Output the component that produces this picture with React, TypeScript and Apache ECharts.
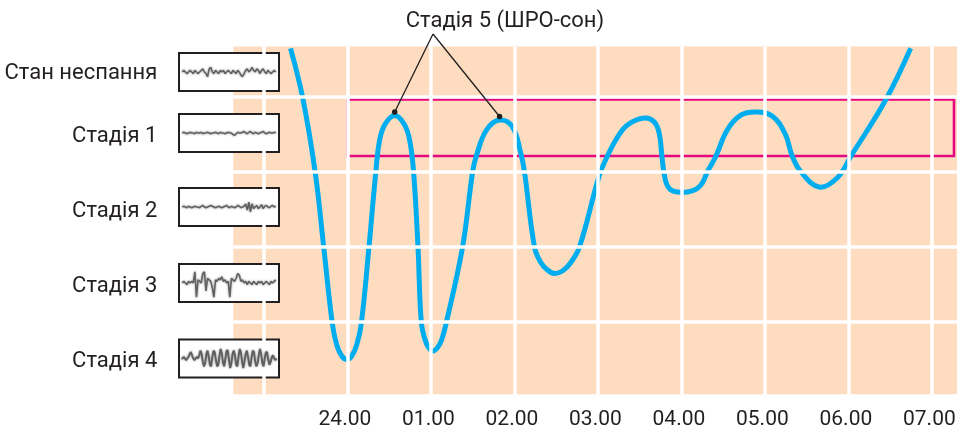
import React, { useEffect, useRef } from 'react';
import * as echarts from 'echarts';

// ---- data ----
const timeTicks = [24, 25, 26, 27, 28, 29, 30, 31];
const timeLabels = ['24.00', '01.00', '02.00', '03.00', '04.00', '05.00', '06.00', '07.00'];
const hourGridLines = [23, 24, 25, 26, 27, 28, 29, 30, 31];
const stageLabels = ['Стан неспання', 'Стадія 1', 'Стадія 2', 'Стадія 3', 'Стадія 4'];
const stageLevels = [0, 1, 2, 3, 4];
const stageBoundaries = [0.5, 1.5, 2.5, 3.5];
const annotationTitle = 'Стадія 5 (ШРО-сон)';

// sleep depth curve: hours (24 = midnight) and depth level (0 = awake, 4 = stage 4)
const curveHours = [
  23.318, 23.465, 23.615, 23.717, 23.818, 23.872, 23.932, 23.992, 24.051, 24.111,
  24.167, 24.258, 24.339, 24.386, 24.452, 24.566, 24.679, 24.745, 24.793, 24.845,
  24.885, 24.931, 24.972, 25.026, 25.08, 25.128, 25.184, 25.379, 25.499, 25.547,
  25.666, 25.822, 25.977, 26.081, 26.121, 26.24, 26.312, 26.396, 26.48, 26.575,
  26.671, 26.779, 27.018, 27.114, 27.221, 27.353, 27.556, 27.676, 27.736, 27.766,
  27.79, 27.819, 27.867, 27.951, 28.071, 28.178, 28.25, 28.31, 28.414, 28.549,
  28.716, 28.896, 29.087, 29.243, 29.327, 29.431, 29.65, 29.865, 30.032, 30.451,
  30.746,
];
const curveLevels = [
  -0.149, 0.513, 1.513, 2.513, 3.513, 3.807, 3.953, 4.0, 3.953, 3.807,
  3.513, 2.5, 1.509, 1.073, 0.86, 0.747, 0.86, 1.073, 1.509, 2.5,
  3.509, 3.74, 3.84, 3.887, 3.84, 3.74, 3.509, 2.5, 1.5, 1.273,
  0.94, 0.807, 0.9, 1.273, 1.5, 2.5, 2.7, 2.807, 2.853, 2.82,
  2.713, 2.5, 1.54, 1.287, 1.06, 0.873, 0.78, 0.833, 0.993, 1.287,
  1.5, 1.647, 1.733, 1.767, 1.767, 1.727, 1.647, 1.5, 1.287, 0.94,
  0.74, 0.7, 0.753, 0.993, 1.287, 1.496, 1.7, 1.58, 1.287, 0.531,
  -0.149,
];

// highlighted REM band
const remBoxHours = [24.0, 31.265];
const remBoxLevels = [0.533, 1.287];

// EEG sample traces (arbitrary amplitude units)
const eegWake = [0, 1, 0, -1, 0, 1, 0, -1, 1, 0, -1, 0, 1, 2, 0, -1, -3, 2, 3, 0, -1, 1, 0, -1, 1, 0, 1, -1, 0, 1, 0, -1, 1, 0, -1, 1, 0, -2, -3, -1, 1, 2, 0, 1, 3, 1, 0, 2, 1, -1, 1, 2, 0, -1, 1, 0, -1, 0, 1, 0];
const eegStage1 = [0, 0.5, 0, -0.5, 0, 0.5, 0, 0, -0.5, 0.5, 0, 0, 0.5, -0.5, 0, 0, 0.5, 0, -0.5, 0, 0, 0.5, 0, -0.5, 0.5, 0, 0, -0.5, 0, 0.5, 0, 0, -1, -1.5, -0.5, 0.5, 0, 0, 0.5, 1, 0, -0.5, 0.5, 1, 0, -0.5, 0.5, 0, -0.5, 0, 0.5, 1, 0, -0.5, 0, 0.5, 0, 0, 0.5, 0];
const eegStage2 = [0, 0.5, 0, -0.5, 0.5, 0, -0.5, 0, 0.5, 0, 0, -0.5, 0.5, 1, 0, -0.5, 0, 0.5, 1, 0.5, 0, -0.5, 0, 0.5, 0, -0.5, 0, 0.5, 1, 0, -0.5, 0.5, 0, -0.5, 0, 1, 0.5, -0.5, 0, 0.5, 2, -2, 3, -3, 2, -1, 0, 1, -1, 0, 1.5, -1, 0.5, 1, 0, -0.5, 0.5, 1, 0, 0.5];
const eegStage3 = [0, 1, 0, -1, 1, 0, 1, 0, 7, -9, 2, 1, 0, 6, 7, -5, 3, 2, 1, -3, -9, 2, 1, 3, 2, 4, 1, 2, 0, 1, -9, 3, 2, 1, 3, 6, 5, 1, 2, 0, 1, -1, 1, 0, -1, 1, 0, -1, 1, 0, 1, -1, 0, 1, 0, -1, 1, 0, 1, 2];
const eegStage4 = [0, 0, 1, 0, -1, 0, 1, 3, 4, 2, 0, -1, 0, 1, 0, 2, 5, 3, -2, -5, -3, 3, 5, 1, -4, -5, 1, 5, 4, -1, -5, -4, 2, 6, 3, -3, -5, 0, 5, 5, -1, -6, -3, 3, 5, 2, -4, -5, 1, 6, 4, -2, -6, -2, 3, 5, 1, -4, -5, 1, 5, 4, -2, -5, -3, 2, 6, 3, -3, -5, 0, 4, 4, -1, -4, -2, 1, 2, 0, -1, 0];
const eegTraces = [eegWake, eegStage1, eegStage2, eegStage3, eegStage4];

// ---- layout / style ----
const FONT = 'Roboto, "Noto Sans", sans-serif';
const TEXT = '#231F20';
const PEACH = '#FDDCBF';
const BLUE = '#00AEEF';
const PINK = '#E6087F';
const X_MIN = 22.633;
const X_MAX = 31.301;
const Y_MIN = -0.1733;
const Y_MAX = 4.464;
const BOX_TOPS = [53, 114, 188, 264, 339.5];
const BOX_H = 38;

export default function App() {
  const ref = useRef<HTMLDivElement>(null);

  useEffect(() => {
    const chart = echarts.init(ref.current!, null, { renderer: 'svg' });

    const labelTicks = stageLevels.map((l, i) => (i === 0 ? (Y_MIN + stageBoundaries[0]) / 2 : l));

    const grids: any[] = [
      {
        left: 233.3,
        right: 1,
        top: 46.5,
        bottom: 432 - 394.3,
        show: true,
        backgroundColor: PEACH,
        borderWidth: 0,
        outerBoundsMode: 'none',
        containLabel: false,
      },
      ...BOX_TOPS.map((t) => ({
        left: 179,
        width: 100,
        top: t,
        height: BOX_H,
        show: true,
        backgroundColor: '#ffffff',
        borderColor: TEXT,
        borderWidth: 2,
        outerBoundsMode: 'none',
        z: 5,
      })),
    ];

    const xAxes: any[] = [
      {
        type: 'value',
        gridIndex: 0,
        min: X_MIN,
        max: X_MAX,
        axisLine: { show: false },
        axisTick: { show: false },
        splitLine: { show: false },
        axisLabel: {
          customValues: timeTicks,
          formatter: (v: number) => {
            const i = timeTicks.indexOf(v);
            return i >= 0 ? timeLabels[i] : '';
          },
          margin: 13,
          padding: [0, 5, 0, 0],
          fontSize: 21,
          fontFamily: FONT,
          color: TEXT,
        },
      },
      ...eegTraces.map((tr, i) => ({
        type: 'value',
        gridIndex: i + 1,
        min: -2,
        max: tr.length + 1,
        show: false,
      })),
    ];

    const yAxes: any[] = [
      {
        type: 'value',
        gridIndex: 0,
        inverse: true,
        min: Y_MIN,
        max: Y_MAX,
        axisLine: { show: false },
        axisTick: { show: false },
        splitLine: { show: false },
        axisLabel: {
          customValues: labelTicks,
          formatter: (v: number) => stageLabels[Math.max(0, Math.min(4, Math.round(v)))],
          margin: 76,
          fontSize: 22,
          fontFamily: FONT,
          color: TEXT,
        },
      },
      ...eegTraces.map((_, i) => ({
        type: 'value',
        gridIndex: i + 1,
        min: -12,
        max: 12,
        show: false,
      })),
    ];

    const series: any[] = [
      {
        type: 'line',
        xAxisIndex: 0,
        yAxisIndex: 0,
        data: [],
        z: 1,
        silent: true,
        markLine: {
          silent: true,
          symbol: ['none', 'none'],
          label: { show: false },
          lineStyle: { color: '#ffffff', width: 3.5, type: 'solid' },
          emphasis: { disabled: true },
          data: [
            ...hourGridLines.map((h) => ({ xAxis: h })),
            ...stageBoundaries.map((l) => ({ yAxis: l })),
          ],
        },
      },
      {
        type: 'line',
        xAxisIndex: 0,
        yAxisIndex: 0,
        data: [],
        z: 2,
        silent: true,
        markArea: {
          silent: true,
          itemStyle: { color: 'rgba(0,0,0,0)', borderColor: PINK, borderWidth: 2.6 },
          emphasis: { disabled: true },
          data: [
            [
              { xAxis: remBoxHours[0], yAxis: remBoxLevels[0] },
              { xAxis: remBoxHours[1], yAxis: remBoxLevels[1] },
            ],
          ],
        },
      },
      {
        type: 'custom',
        xAxisIndex: 0,
        yAxisIndex: 0,
        data: curveHours.map((h, i) => [h, curveLevels[i]]),
        encode: { x: 0, y: 1 },
        silent: true,
        clip: true,
        z: 3,
        renderItem: (params: any, api: any) => {
          if (params.dataIndex !== 0) return null;
          const pts = curveHours.map((h, i) => api.coord([h, curveLevels[i]]));
          return {
            type: 'polyline',
            shape: { points: pts, smooth: 0.4 },
            style: { stroke: BLUE, lineWidth: 5, fill: 'none', lineCap: 'butt', lineJoin: 'round' },
          };
        },
      },
      ...eegTraces.map((tr, i) => ({
        type: 'line',
        xAxisIndex: i + 1,
        yAxisIndex: i + 1,
        data: tr.map((v, j) => [j, v]),
        showSymbol: false,
        silent: true,
        z: 6,
        lineStyle: {
          color: '#555555',
          width: i === 4 ? 2 : 1.6,
          opacity: 0.9,
          shadowBlur: 2,
          shadowColor: 'rgba(0,0,0,0.45)',
        },
      })),
    ];

    chart.setOption({
      animation: false,
      grid: grids,
      xAxis: xAxes,
      yAxis: yAxes,
      series,
    });

    // annotation: leader lines to the first two REM peaks
    const peaks: number[] = [];
    for (let i = 1; i < curveLevels.length - 1 && peaks.length < 2; i++) {
      if (curveLevels[i] < curveLevels[i - 1] && curveLevels[i] < curveLevels[i + 1]) peaks.push(i);
    }
    const pts = peaks.map((i) => chart.convertToPixel({ gridIndex: 0 }, [curveHours[i], curveLevels[i]]) as number[]);
    const apex = [433, 34];
    const graphic: any[] = [
      {
        type: 'text',
        z: 20,
        style: {
          x: 505,
          y: 19,
          text: annotationTitle,
          align: 'center',
          verticalAlign: 'middle',
          fontSize: 22,
          fontFamily: FONT,
          fill: TEXT,
        },
      },
      ...pts.map((p) => ({
        type: 'line',
        z: 20,
        shape: { x1: apex[0], y1: apex[1], x2: p[0], y2: p[1] - 3.5 },
        style: { stroke: TEXT, lineWidth: 1.3 },
      })),
      ...pts.map((p) => ({
        type: 'circle',
        z: 21,
        shape: { cx: p[0], cy: p[1] - 3.5, r: 2.8 },
        style: { fill: TEXT },
      })),
    ];
    chart.setOption({ graphic });

    return () => chart.dispose();
  }, []);

  return <div ref={ref} style={{ position: 'fixed', left: 0, top: 0, width: 958, height: 432 }} />;
}
